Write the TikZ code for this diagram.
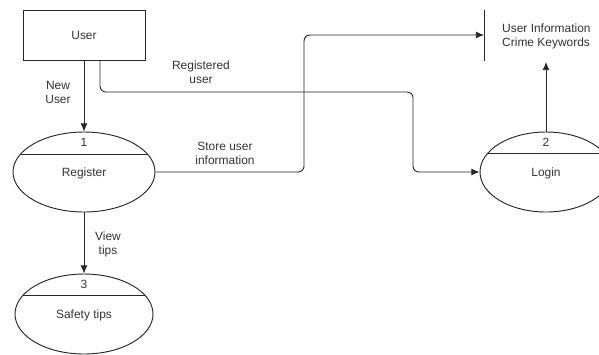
\documentclass[tikz,border=0pt]{standalone}
\usepackage{fontspec}
\setmainfont{Liberation Sans}
\usetikzlibrary{shapes.geometric,arrows.meta,calc}
\begin{document}
\begin{tikzpicture}[x=0.03cm,y=-0.03cm,
  font=\fontsize{10.2}{12}\selectfont,
  every node/.style={text=black!80},
  line/.style={draw=black!85,line width=0.8pt},
  arr/.style={line, -{Latex[length=7pt,width=6pt]}, rounded corners=5pt},
  proc/.style={ellipse,line,inner sep=0pt},
  lbl/.style={align=center,inner sep=0pt}]
\useasboundingbox (0,0) rectangle (599,354);
\clip (0,0) rectangle (599,354);
% entities
\node[line,rectangle,minimum width=122*0.03cm,minimum height=50*0.03cm,inner sep=0pt] (user) at (84,35) {User};
\node[proc,minimum width=142*0.03cm,minimum height=80*0.03cm] (reg) at (84,172) {};
\node[proc,minimum width=138*0.03cm,minimum height=80*0.03cm] (tips) at (84,314) {};
\node[proc,minimum width=132*0.03cm,minimum height=80*0.03cm] (login) at (546,172) {};
% dividers and texts
\draw[line] (84-63.4,154) -- (84+63.4,154);
\node (n1) at (84,142) {1};
\node (t1) at (84,173) {Register};
\draw[line] (84-60.7,295) -- (84+60.7,295);
\node (n3) at (84,284) {3};
\node (t3) at (84,315) {Safety tips};
\draw[line] (546-58.1,153) -- (546+58.1,153);
\node (n2) at (546,142) {2};
\node (t2) at (546,173) {Login};
% data store
\coordinate (st1) at (484,10);
\coordinate (st2) at (484,61);
\draw[line] (st1) -- (st2);
\node[lbl,align=left,anchor=west] (store) at (502,36) {User Information\\Crime Keywords};
\coordinate (storein) at (484,35);
\coordinate (storebot) at (546,62);
% connectors
\draw[arr] (user.south) -- (reg.north);
\draw[arr] ($(user.south)+(16,0)$) |- (413,92) |- (login.west);
\draw[arr] (reg.east) -| (304,35) -- (storein);
\draw[arr] (login.north) -- (storebot);
\draw[arr] (reg.south) -- (tips.north);
% labels
\node[lbl] (l1) at (58,92) {New\\User};
\node[lbl] (l2) at (201,72) {Registered\\user};
\node[lbl] (l3) at (225,153) {Store user\\information};
\node[lbl] (l4) at (108,244) {View\\tips};
\end{tikzpicture}
\end{document}
